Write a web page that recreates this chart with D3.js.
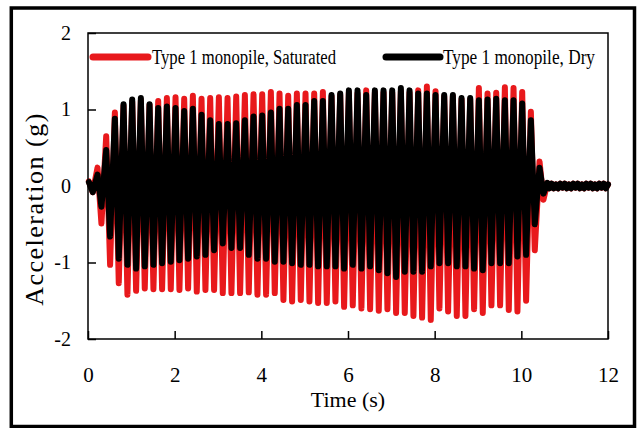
<!DOCTYPE html>
<html>
<head>
<meta charset="utf-8">
<script src="https://cdn.jsdelivr.net/npm/d3@7"></script>
<style>
  body { margin: 0; background: #fff; }
  svg { display: block; }
</style>
</head>
<body>
<svg id="chart" width="638" height="428"></svg>
<script>
// time of each upper peak / lower trough (s)
const peakTimes = [0.02, 0.22, 0.42, 0.62, 0.82, 1.02, 1.22, 1.42, 1.62, 1.82, 2.02, 2.22, 2.42, 2.62, 2.82, 3.02, 3.22, 3.42, 3.62, 3.82, 4.02, 4.22, 4.42, 4.62, 4.82, 5.02, 5.22, 5.42, 5.62, 5.82, 6.02, 6.22, 6.42, 6.62, 6.82, 7.02, 7.22, 7.42, 7.62, 7.82, 8.02, 8.22, 8.42, 8.62, 8.82, 9.02, 9.22, 9.42, 9.62, 9.82, 10.02, 10.22, 10.42];
const troughTimes = [0.11, 0.31, 0.51, 0.71, 0.91, 1.11, 1.31, 1.51, 1.71, 1.91, 2.11, 2.31, 2.51, 2.71, 2.91, 3.11, 3.31, 3.51, 3.71, 3.91, 4.11, 4.31, 4.51, 4.71, 4.91, 5.11, 5.31, 5.51, 5.71, 5.91, 6.11, 6.31, 6.51, 6.71, 6.91, 7.11, 7.31, 7.51, 7.71, 7.91, 8.11, 8.31, 8.51, 8.71, 8.91, 9.11, 9.31, 9.51, 9.71, 9.91, 10.11, 10.31, 10.51];

// Type 1 monopile, Saturated (g)
const satPeaks = [0.06, 0.24, 0.65, 0.96, 1.05, 1.10, 1.12, 1.06, 1.11, 1.15, 1.16, 1.14, 1.18, 1.14, 1.15, 1.16, 1.15, 1.17, 1.19, 1.20, 1.20, 1.23, 1.21, 1.18, 1.21, 1.21, 1.21, 1.23, 1.17, 1.19, 1.22, 1.21, 1.25, 1.22, 1.22, 1.22, 1.24, 1.22, 1.25, 1.30, 1.24, 1.17, 1.17, 1.13, 1.13, 1.28, 1.21, 1.22, 1.29, 1.28, 1.23, 0.97, 0.32];
const satTroughs = [-0.08, -0.49, -1.03, -1.27, -1.42, -1.37, -1.34, -1.35, -1.35, -1.35, -1.36, -1.34, -1.38, -1.36, -1.36, -1.40, -1.40, -1.40, -1.39, -1.42, -1.42, -1.40, -1.49, -1.51, -1.49, -1.51, -1.53, -1.53, -1.51, -1.58, -1.56, -1.60, -1.61, -1.63, -1.61, -1.66, -1.66, -1.70, -1.72, -1.75, -1.60, -1.64, -1.70, -1.70, -1.61, -1.66, -1.56, -1.56, -1.62, -1.64, -1.50, -0.84, -0.18];

// Type 1 monopile, Dry (g)
const dryPeaks = [0.05, 0.15, 0.47, 0.88, 1.07, 1.13, 1.15, 1.07, 1.02, 1.04, 1.02, 0.98, 1.01, 0.93, 0.86, 0.81, 0.81, 0.82, 0.86, 0.91, 0.92, 0.96, 1.01, 1.01, 1.06, 1.06, 1.11, 1.11, 1.19, 1.21, 1.25, 1.25, 1.19, 1.25, 1.25, 1.25, 1.28, 1.25, 1.21, 1.21, 1.19, 1.19, 1.19, 1.15, 1.15, 1.12, 1.13, 1.14, 1.12, 1.12, 1.08, 0.86, 0.24];
const dryTroughs = [-0.08, -0.27, -0.66, -0.95, -1.03, -1.08, -1.05, -1.03, -1.01, -0.99, -0.97, -0.95, -0.92, -0.90, -0.84, -0.75, -0.81, -0.81, -0.90, -0.95, -0.95, -0.99, -0.99, -1.01, -1.03, -1.03, -1.05, -1.05, -1.05, -1.08, -1.03, -1.08, -1.05, -1.10, -1.14, -1.19, -1.12, -1.12, -1.12, -1.05, -1.01, -1.01, -1.05, -1.05, -1.08, -1.10, -1.01, -1.01, -1.01, -0.92, -0.90, -0.50, -0.10];

// residual after shaking stops
const tailTimes = [10.6, 10.65, 10.7, 10.75, 10.8, 10.85, 10.9, 10.95, 11.0, 11.05, 11.1, 11.15, 11.2, 11.25, 11.3, 11.35, 11.4, 11.45, 11.5, 11.55, 11.6, 11.65, 11.7, 11.75, 11.8, 11.85, 11.9, 11.95, 12.0];
const tailValues = [0.04, -0.03, 0.03, -0.03, 0.02, -0.03, 0.03, -0.02, 0.03, -0.03, 0.02, -0.03, 0.03, -0.02, 0.03, -0.03, 0.02, -0.03, 0.03, -0.02, 0.03, -0.03, 0.02, -0.03, 0.03, -0.02, 0.03, -0.03, 0.02];

const xTicks = [0, 2, 4, 6, 8, 10, 12];
const yTicks = [-2, -1, 0, 1, 2];

const seriesNames = ["Type 1 monopile, Saturated", "Type 1 monopile, Dry"];
const seriesColors = ["#e8191c", "#000000"];

const fontFamily = '"Liberation Serif", "Times New Roman", serif';
const margin = {left: 88, right: 30, top: 33, bottom: 89};
const width = 638, height = 428;
const innerWidth = width - margin.left - margin.right;
const innerHeight = height - margin.top - margin.bottom;

function buildSeries(peaks, troughs) {
    const pts = [];
    for (let i = 0; i < peakTimes.length; i++) {
        pts.push({t: peakTimes[i], v: peaks[i]});
        pts.push({t: troughTimes[i], v: troughs[i]});
    }
    tailTimes.forEach((t, i) => pts.push({t: t, v: tailValues[i]}));
    return pts;
}

const series = [
    buildSeries(satPeaks, satTroughs),
    buildSeries(dryPeaks, dryTroughs)
];

const svg = d3.select('#chart');

// outer frame
svg.append('rect')
    .attr('x', 11.3).attr('y', 8)
    .attr('width', 623.2).attr('height', 418.5)
    .style('fill', 'none')
    .style('stroke', '#000')
    .style('stroke-width', 3.5);

const g = svg.append('g')
    .attr('transform', `translate(${margin.left}, ${margin.top})`);

const xScale = d3.scaleLinear().domain([0, 12]).range([0, innerWidth]);
const yScale = d3.scaleLinear().domain([-2, 2]).range([innerHeight, 0]);

const line = d3.line()
    .x(d => xScale(d.t))
    .y(d => yScale(d.v));

series.forEach((data, i) => {
    g.append('path')
        .datum(data)
        .attr('d', line)
        .style('fill', 'none')
        .style('stroke', seriesColors[i])
        .style('stroke-width', 6)
        .style('stroke-linejoin', 'round')
        .style('stroke-linecap', 'round');
});

// plot box
g.append('rect')
    .attr('width', innerWidth)
    .attr('height', innerHeight)
    .style('fill', 'none')
    .style('stroke', '#000')
    .style('stroke-width', 1.5);

// axes with inward ticks
const xAxis = g.append('g')
    .attr('transform', `translate(0, ${innerHeight})`)
    .call(d3.axisBottom(xScale).tickValues(xTicks).tickFormat(d => String(d))
        .tickSize(-8).tickPadding(28).tickSizeOuter(0));
xAxis.select('.domain').remove();

const yAxis = g.append('g')
    .call(d3.axisLeft(yScale).tickValues(yTicks).tickFormat(d => String(d))
        .tickSize(-8).tickPadding(17).tickSizeOuter(0));
yAxis.select('.domain').remove();

[xAxis, yAxis].forEach(ax => {
    ax.selectAll('.tick line').style('stroke-width', 1.5);
    ax.selectAll('.tick text')
        .style('font-family', fontFamily)
        .style('fill', '#000');
});
xAxis.selectAll('.tick text').style('font-size', '21px');
yAxis.selectAll('.tick text').style('font-size', '20px');

// axis titles
svg.append('text')
    .attr('x', margin.left + innerWidth / 2)
    .attr('y', 407)
    .attr('text-anchor', 'middle')
    .style('font-family', fontFamily)
    .style('font-size', '22px')
    .text('Time (s)');

svg.append('text')
    .attr('transform', 'translate(43, 209) rotate(-90)')
    .attr('text-anchor', 'middle')
    .style('font-family', fontFamily)
    .style('font-size', '26px')
    .style('letter-spacing', '1.5px')
    .text('Acceleration (g)');

// legend
const legend = [
    {x1: 93, x2: 148, tx: 152, tw: 184},
    {x1: 386, x2: 440, tx: 443, tw: 152}
];
legend.forEach((l, i) => {
    svg.append('line')
        .attr('x1', l.x1).attr('x2', l.x2)
        .attr('y1', 57).attr('y2', 57)
        .style('stroke', seriesColors[i])
        .style('stroke-width', 7)
        .style('stroke-linecap', 'round');
    svg.append('text')
        .attr('x', l.tx)
        .attr('y', 64)
        .attr('textLength', l.tw)
        .attr('lengthAdjust', 'spacingAndGlyphs')
        .style('font-family', fontFamily)
        .style('font-size', '20px')
        .text(seriesNames[i]);
});
</script>
</body>
</html>
